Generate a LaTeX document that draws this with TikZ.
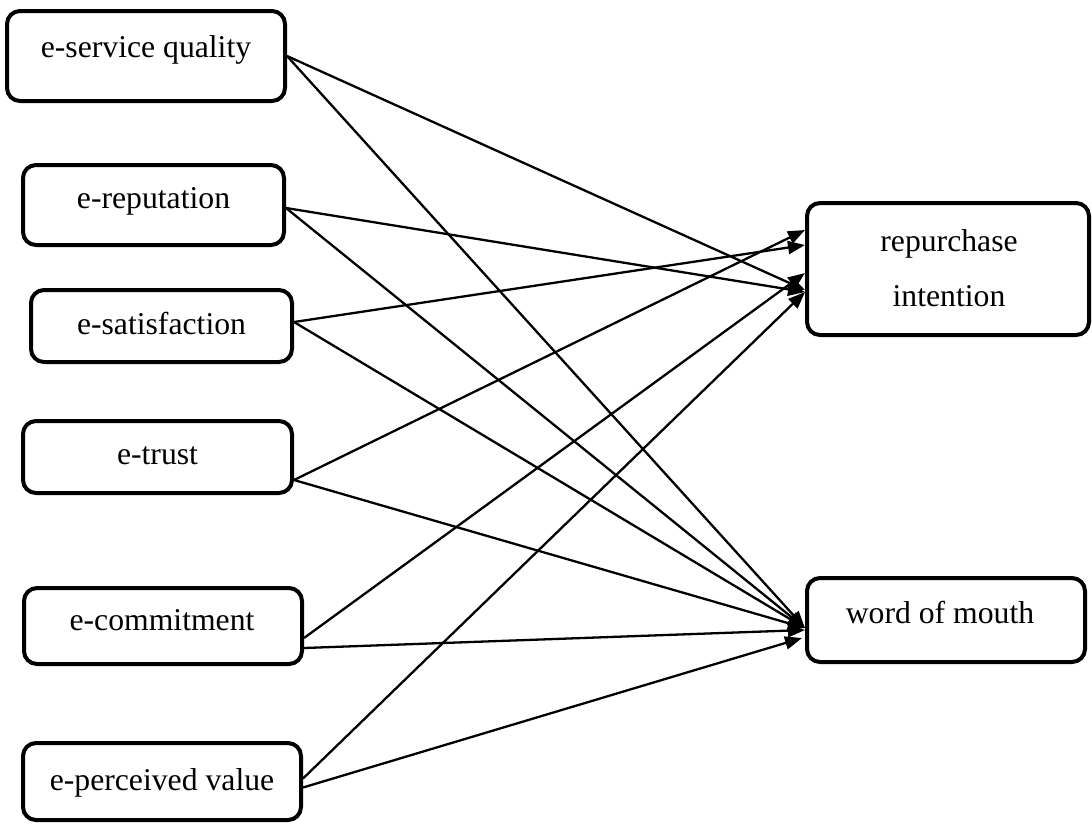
\documentclass[tikz,border=0pt]{standalone}
\usepackage{fontspec}
\setmainfont{Liberation Serif}
\usetikzlibrary{arrows.meta}

\tikzset{
  box/.style={draw=black, line width=4pt, rounded corners=13pt, inner sep=0pt, fill=white},
  lbl/.style={inner sep=0pt, font=\fontsize{31.7}{55}\selectfont, align=center},
  conn/.style={line width=2.3pt, -{Triangle[length=17pt,width=13pt]}}
}

\begin{document}
\begin{tikzpicture}[x=1pt, y=-1pt]
  \useasboundingbox (0,0) rectangle (1092,823);

  % predictor boxes (left column)
  \node[box, minimum width=278pt, minimum height=90pt] (sq)    at (146,56)    {};
  \node[box, minimum width=261pt, minimum height=80pt] (rep)   at (153.5,205) {};
  \node[box, minimum width=261pt, minimum height=72pt] (sat)   at (161.5,326) {};
  \node[box, minimum width=269pt, minimum height=72pt] (trust) at (157.5,457) {};
  \node[box, minimum width=278pt, minimum height=76pt] (com)   at (163,626)   {};
  \node[box, minimum width=278pt, minimum height=77pt] (pv)    at (162,781.5) {};

  % outcome boxes (right column)
  \node[box, minimum width=282pt, minimum height=132pt] (ri)  at (948,269) {};
  \node[box, minimum width=278pt, minimum height=84pt]  (wom) at (946,620) {};

  % box captions
  \node[lbl] (sqt)    at (146,49.5)  {e-service quality};
  \node[lbl] (rept)   at (153.5,201) {e-reputation};
  \node[lbl] (satt)   at (161.5,323) {e-satisfaction};
  \node[lbl] (trustt) at (157.5,456) {e-trust};
  \node[lbl] (comt)   at (162,620)   {e-commitment};
  \node[lbl] (pvt)    at (162,782.5) {e-perceived value};
  \node[lbl] (rit)    at (949,268)   {repurchase\\intention};
  \node[lbl] (womt)   at (940,612)   {word of mouth};

  % paths to repurchase intention
  \draw[conn] (sq.east)                  -- ([yshift=-21pt]ri.west);
  \draw[conn] ([yshift=-3pt]rep.east)    -- ([yshift=-23pt]ri.west);
  \draw[conn] ([yshift=4pt]sat.east)     -- ([yshift=24pt]ri.west);
  \draw[conn] ([yshift=-23pt]trust.east) -- ([yshift=39pt]ri.west);
  \draw[conn] ([yshift=-12pt]com.east)   -- ([yshift=-4pt]ri.west);
  \draw[conn] ([yshift=3pt]pv.east)      -- ([yshift=-23pt]ri.west);

  % paths to word of mouth
  \draw[conn] (sq.east)                  -- ([yshift=-8pt]wom.west);
  \draw[conn] ([yshift=-3pt]rep.east)    -- ([yshift=-8pt]wom.west);
  \draw[conn] ([yshift=4pt]sat.east)     -- ([yshift=-8pt]wom.west);
  \draw[conn] ([yshift=-23pt]trust.east) -- ([yshift=-8pt]wom.west);
  \draw[conn] ([yshift=-22pt]com.east)   -- ([yshift=-10pt]wom.west);
  \draw[conn] ([yshift=-6pt]pv.east)     -- ([xshift=-3pt,yshift=-18pt]wom.west);
\end{tikzpicture}
\end{document}
